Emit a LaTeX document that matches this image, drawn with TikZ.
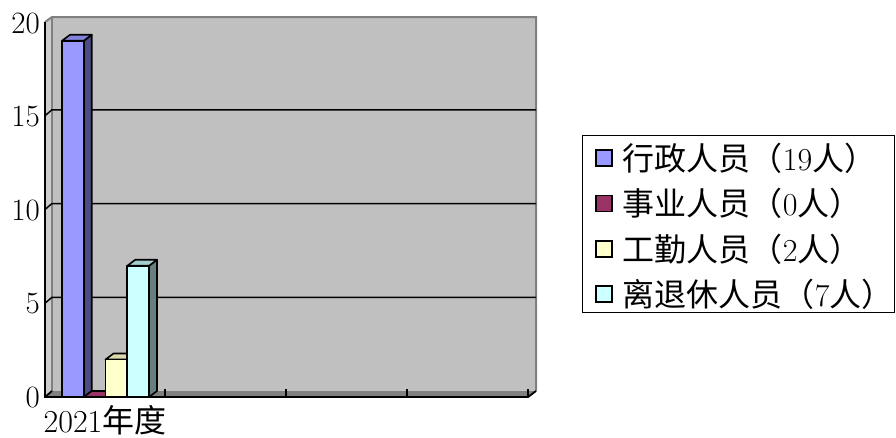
\documentclass[tikz,border=0pt]{standalone}
\usepackage{fontspec}
\newfontfamily\cjk{Noto Sans CJK SC}
\usetikzlibrary{positioning}
\definecolor{barblue}{RGB}{153,153,255}
\definecolor{barplum}{RGB}{153,51,102}
\definecolor{barcream}{RGB}{255,255,204}
\definecolor{barcyan}{RGB}{204,255,255}
\definecolor{wallgrey}{RGB}{192,192,192}
\definecolor{sidegrey}{RGB}{204,204,204}
\definecolor{floorgrey}{RGB}{128,128,128}
\tikzset{
	face/.style={draw=black, line width=1.6pt, line join=round},
	axisline/.style={draw=black, line width=1.8pt},
	gridline/.style={draw=black, line width=1.5pt},
	ticklabel/.style={anchor=east, inner sep=0pt, font=\fontsize{31}{36}\selectfont},
	keybox/.style={rectangle, draw=black, line width=1.5pt, minimum size=16pt, inner sep=0pt},
	keytext/.style={inner sep=0pt, font=\fontsize{32}{38}\selectfont},
}

\begin{document}
\begin{tikzpicture}[x=1pt, y=-1pt, node distance=0pt and 10pt]
	\useasboundingbox (0,0) rectangle (896,437);

	% walls and floor
	\fill[wallgrey] (52,17) rectangle (536,391);
	\fill[sidegrey] (45,22) -- (52,17) -- (52,391) -- (45,397) -- cycle;
	\fill[floorgrey] (45,397) -- (52,391) -- (536,391) -- (528,397) -- cycle;
	\draw[floorgrey, line width=2pt] (45,22) -- (52,17) -- (536,17) -- (536,391);
	\draw[floorgrey, line width=1.2pt] (52,17) -- (52,391);

	% grid on the back wall
	\path[gridline] (45,115.75) -- (52,109.75) -- (536,109.75);
	\path[gridline] (45,209.5) -- (52,203.5) -- (536,203.5);
	\path[gridline] (45,303.25) -- (52,297.25) -- (536,297.25);

	% axes
	\path[axisline] (45,22) -- (45,397) -- (528,397) -- (536,391);
	\path[axisline] (45,397) -- (52,391);
	\path[axisline] (165,397) -- (165,389);
	\path[axisline] (286,397) -- (286,389);
	\path[axisline] (407,397) -- (407,389);
	\path[axisline] (528,397) -- (528,389);

	% bars
	\path[face, fill=barblue!50!black] (83.75,397) -- (91.75,391) -- (91.75,34.75) -- (83.75,40.75) -- cycle;
	\path[face, fill=barblue!85!black] (62,40.75) -- (70,34.75) -- (91.75,34.75) -- (83.75,40.75) -- cycle;
	\path[face, fill=barblue] (62,397) rectangle (83.75,40.75);

	\path[face, fill=barplum] (83.75,397) -- (91.75,391) -- (113.5,391) -- (105.5,397) -- cycle;

	\path[face, fill=barcream!50!black] (127.25,397) -- (135.25,391) -- (135.25,353.5) -- (127.25,359.5) -- cycle;
	\path[face, fill=barcream!85!black] (105.5,359.5) -- (113.5,353.5) -- (135.25,353.5) -- (127.25,359.5) -- cycle;
	\path[face, fill=barcream] (105.5,397) rectangle (127.25,359.5);

	\path[face, fill=barcyan!50!black] (149,397) -- (157,391) -- (157,259.75) -- (149,265.75) -- cycle;
	\path[face, fill=barcyan!80!black] (127.25,265.75) -- (135.25,259.75) -- (157,259.75) -- (149,265.75) -- cycle;
	\path[face, fill=barcyan] (127.25,397) rectangle (149,265.75);

	% axis labels
	\node[ticklabel] (y20) at (40,23) {20};
	\node[ticklabel] (y15) at (40,116.5) {15};
	\node[ticklabel] (y10) at (40,210) {10};
	\node[ticklabel] (y5) at (40,304) {5};
	\node[ticklabel] (y0) at (40,397.5) {0};
	\node[keytext, anchor=base] (year) at (105,432) {2021{\cjk 年度}};

	% legend
	\node[rectangle, draw=black, line width=1.6pt, fill=white, minimum width=312pt, minimum height=177pt] (legend) at (738.5,224) {};
	\node[keybox, fill=barblue] (key1) at (604,158) {};
	\node[keybox, fill=barplum] (key2) at (604,203.5) {};
	\node[keybox, fill=barcream] (key3) at (604,249) {};
	\node[keybox, fill=barcyan] (key4) at (604,294) {};
	\node[keytext, right=of key1] (name1) {{\cjk 行政人员（}19{\cjk 人）}};
	\node[keytext, right=of key2] (name2) {{\cjk 事业人员（}0{\cjk 人）}};
	\node[keytext, right=of key3] (name3) {{\cjk 工勤人员（}2{\cjk 人）}};
	\node[keytext, right=of key4] (name4) {{\cjk 离退休人员（}7{\cjk 人）}};
\end{tikzpicture}
\end{document}
